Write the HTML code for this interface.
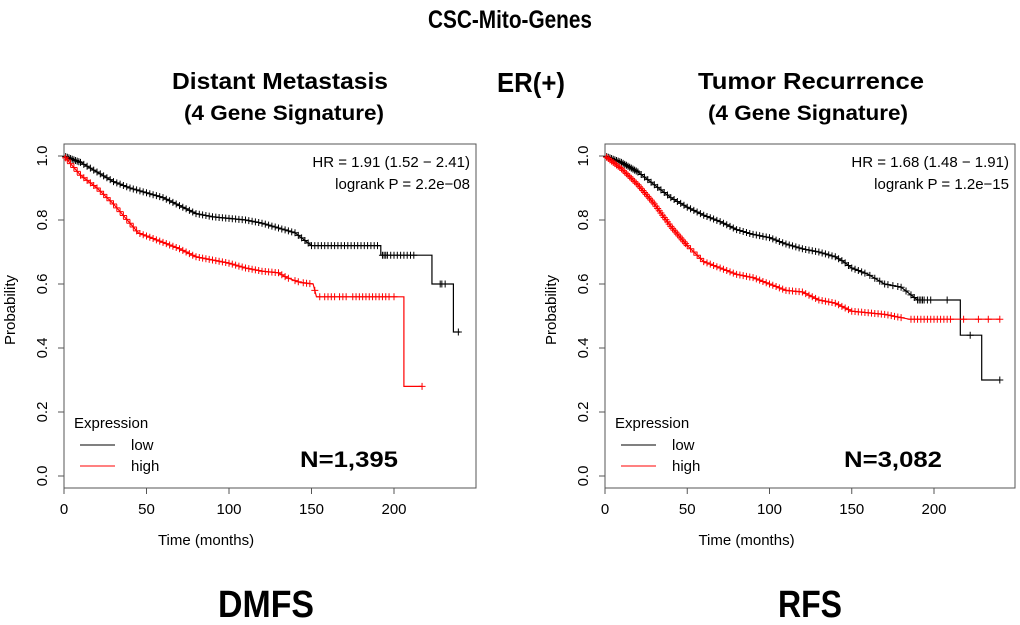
<!DOCTYPE html>
<html><head><meta charset="utf-8"><style>
body{margin:0;background:#fff;}
svg text{font-family:"Liberation Sans",sans-serif;}
.b{font-weight:bold;}
</style></head><body>
<svg id="fig" width="1020" height="620" viewBox="0 0 1020 620" xmlns="http://www.w3.org/2000/svg">
<text class="b" x="510" y="28" font-size="25" text-anchor="middle" textLength="164" lengthAdjust="spacingAndGlyphs">CSC-Mito-Genes</text>
<text class="b" x="531" y="92" font-size="28" text-anchor="middle" textLength="68" lengthAdjust="spacingAndGlyphs">ER(+)</text>
<text class="b" x="280" y="89" font-size="23" text-anchor="middle" textLength="216" lengthAdjust="spacingAndGlyphs">Distant Metastasis</text>
<text class="b" x="284" y="120" font-size="21" text-anchor="middle" textLength="200" lengthAdjust="spacingAndGlyphs">(4 Gene Signature)</text>
<text class="b" x="811" y="89" font-size="23" text-anchor="middle" textLength="226" lengthAdjust="spacingAndGlyphs">Tumor Recurrence</text>
<text class="b" x="808" y="120" font-size="21" text-anchor="middle" textLength="200" lengthAdjust="spacingAndGlyphs">(4 Gene Signature)</text>
<text class="b" x="266" y="617" font-size="38" text-anchor="middle" textLength="96" lengthAdjust="spacingAndGlyphs">DMFS</text>
<text class="b" x="810" y="617" font-size="38" text-anchor="middle" textLength="64" lengthAdjust="spacingAndGlyphs">RFS</text>
<g id="left"></g>
<g id="right"></g>
</svg>
<script>
const xTicks=[0,50,100,150,200];
const yTicks=[0.0,0.2,0.4,0.6,0.8,1.0];
const yTickLabels=["0.0","0.2","0.4","0.6","0.8","1.0"];

const dmfsLowT=[0,5,10,20,30,40,50,60,70,80,90,100,110,120,130,140,145,150,192,192,223,223,236,236,240];
const dmfsLowS=[1,0.99,0.98,0.95,0.92,0.9,0.885,0.87,0.845,0.82,0.81,0.805,0.8,0.79,0.775,0.76,0.74,0.72,0.72,0.69,0.69,0.60,0.60,0.45,0.45];
const dmfsHighT=[0,5,10,20,30,40,45,50,60,70,80,90,100,110,120,130,135,143,151,153,206,206,217];
const dmfsHighS=[1,0.97,0.94,0.9,0.85,0.79,0.76,0.75,0.73,0.71,0.685,0.675,0.665,0.65,0.64,0.635,0.62,0.605,0.60,0.56,0.56,0.28,0.28];
const dmfsLowCens=[1,2,3,4,5,6,7,8,9,10,12,14,16,18,20,22,24,26,28,30,32,34,36,38,40,42,44,46,48,50,52,54,56,58,60,62,64,66,68,70,72,74,76,78,80,82,84,86,88,90,92,94,96,98,100,102,104,106,108,110,112,114,116,118,120,122,124,126,128,130,132,134,136,138,140,142,144,146,148,150,152,154,156,158,160,162,164,166,168,170,172,174,176,178,180,182,184,186,188,190,193,194,195,196,198,200,202,204,206,208,210,212,228,229,231,239];
const dmfsHighCens=[1,2,4,6,8,10,12,14,16,18,20,22,24,26,28,30,32,34,36,38,40,42,44,46,48,50,52,54,56,58,60,62,64,66,68,70,72,74,76,78,80,82,84,86,88,90,92,94,96,98,100,102,104,106,108,110,112,114,116,118,120,122,124,126,128,130,132,134,136,140,142,145,147,149,152,155,158,160,162,164,167,169,171,175,177,179,181,183,185,187,189,191,193,195,197,200,217];
const rfsLowT=[0,10,20,30,40,50,60,70,80,90,100,110,120,130,140,145,150,160,170,180,190,216,216,229,229,240];
const rfsLowS=[1,0.98,0.95,0.91,0.87,0.84,0.815,0.795,0.77,0.755,0.745,0.725,0.71,0.70,0.685,0.67,0.65,0.63,0.60,0.59,0.55,0.55,0.44,0.44,0.30,0.30];
const rfsHighT=[0,10,20,30,40,50,60,70,80,90,100,110,120,130,140,150,160,170,185,240];
const rfsHighS=[1,0.96,0.91,0.85,0.78,0.72,0.67,0.65,0.63,0.62,0.60,0.58,0.575,0.55,0.54,0.515,0.51,0.505,0.49,0.49];
const rfsLowCens=[1,2,3,4,5,6,7,8,9,10,11,12,13,14,15,16,17,18,19,20,22,24,26,28,30,32,34,36,38,40,42,44,46,48,50,52,54,56,58,60,62,64,66,68,70,72,74,76,78,80,82,84,86,88,90,92,94,96,98,100,102,104,106,108,110,112,114,116,118,120,122,124,126,128,130,132,134,136,138,140,142,144,146,148,150,152,154,156,158,161,164,167,170,172,175,178,180,183,186,188,190,191,192,193,194,196,198,208,222,240];
const rfsHighCens=[1,2,3,4,5,6,7,8,9,10,11,12,13,14,15,16,17,18,19,20,21,22,23,24,25,26,27,28,29,30,31,32,33,34,35,36,37,38,39,40,41,42,43,44,45,46,47,48,49,50,52,54,56,58,60,62,64,66,68,70,72,74,76,78,80,82,84,86,88,90,92,94,96,98,100,102,104,106,108,110,112,114,116,118,120,122,124,126,128,130,132,134,136,138,140,142,144,146,148,150,152,154,156,158,160,162,164,166,168,170,172,174,176,178,180,186,188,190,192,194,196,198,200,202,204,206,208,210,218,227,233,240];

const NS="http://www.w3.org/2000/svg";
function mk(tag,attrs,parent,txt){const e=document.createElementNS(NS,tag);for(const k in attrs)e.setAttribute(k,attrs[k]);if(txt!==undefined)e.textContent=txt;parent.appendChild(e);return e;}
function interp(T,S,t){
  for(let i=T.length-1;i>0;i--){
    if(t>=T[i-1]&&t<=T[i]){
      if(T[i]===T[i-1])return S[i];
      return S[i-1]+(S[i]-S[i-1])*(t-T[i-1])/(T[i]-T[i-1]);
    }
  }
  return S[S.length-1];
}

function drawPlot(g,cfg){
  const x0=cfg.x0,pxm=cfg.pxm,yb=476,yt=156;
  const X=t=>x0+t*pxm, Y=s=>yb-(yb-yt)*s;
  const frame=mk('rect',{x:x0,y:144,width:cfg.w,height:344,fill:'none',stroke:'#555','stroke-width':1},g);
  
  
  xTicks.forEach(v=>{
    const l=mk('line',{x1:X(v),x2:X(v),y1:488,y2:494,stroke:'#555'},g);
    
    
    const t=mk('text',{x:X(v),y:514,'font-size':15,'text-anchor':'middle'},g,String(v));
    
    
  });
  yTicks.forEach((v,i)=>{
    const l=mk('line',{x1:x0-6,x2:x0,y1:Y(v),y2:Y(v),stroke:'#555'},g);
    
    
    const t=mk('text',{x:0,y:0,'font-size':15,'text-anchor':'middle',transform:`translate(${x0-17},${Y(v)}) rotate(-90)`},g,yTickLabels[i]);
    
    
  });
  const yt2=mk('text',{x:0,y:0,'font-size':15,'text-anchor':'middle',transform:`translate(${x0-49},310) rotate(-90)`},g,'Probability');
  
  
  const xt=mk('text',{x:X(100)-23,y:545,'font-size':15,'text-anchor':'middle'},g,'Time (months)');
  
  
  const h1=mk('text',{x:x0+cfg.w-6,y:167,'font-size':15,'text-anchor':'end'},g,cfg.hr);
  
  
  const h2=mk('text',{x:x0+cfg.w-6,y:189,'font-size':15,'text-anchor':'end'},g,cfg.p);
  
  
  cfg.series.forEach(s=>{
    let d=`M${X(s.T[0])},${Y(s.S[0])}`;
    for(let i=1;i<s.T.length;i++){d+=` L${X(s.T[i])},${Y(s.S[i])}`;}
    const p=mk('path',{d:d,fill:'none',stroke:s.c,'stroke-width':1.2},g);
    
    
    let cd='';
    s.C.forEach(t=>{const cx=X(t),cy=Y(interp(s.T,s.S,t));cd+=`M${cx-3.5},${cy}h7M${cx},${cy-3.5}v7`;});
    const cp=mk('path',{d:cd,fill:'none',stroke:s.c,'stroke-width':1},g);
    
    
  });
  const lt=mk('text',{x:x0+10,y:428,'font-size':15},g,'Expression');
  
  
  [['low','#000',449],['high','#f00',470]].forEach(([n,c,y])=>{
    const l=mk('line',{x1:x0+16,x2:x0+51,y1:y-4,y2:y-4,stroke:c},g);
    
    
    const t=mk('text',{x:x0+67,y:y+1,'font-size':15},g,n);
    
    
  });
  const nt=mk('text',{x:cfg.nx,y:467,'font-size':22,'font-weight':'bold',textLength:98,lengthAdjust:'spacingAndGlyphs'},g,cfg.n);
  
  
}
drawPlot(document.getElementById('left'),{x0:64,w:412,pxm:1.65,hr:'HR = 1.91 (1.52 − 2.41)',p:'logrank P = 2.2e−08',n:'N=1,395',nx:300,
  series:[{name:'low',T:dmfsLowT,S:dmfsLowS,C:dmfsLowCens,c:'#000'},{name:'high',T:dmfsHighT,S:dmfsHighS,C:dmfsHighCens,c:'#f00'}]});
drawPlot(document.getElementById('right'),{x0:605,w:410,pxm:1.645,hr:'HR = 1.68 (1.48 − 1.91)',p:'logrank P = 1.2e−15',n:'N=3,082',nx:844,
  series:[{name:'low',T:rfsLowT,S:rfsLowS,C:rfsLowCens,c:'#000'},{name:'high',T:rfsHighT,S:rfsHighS,C:rfsHighCens,c:'#f00'}]});
</script>
</body></html>
